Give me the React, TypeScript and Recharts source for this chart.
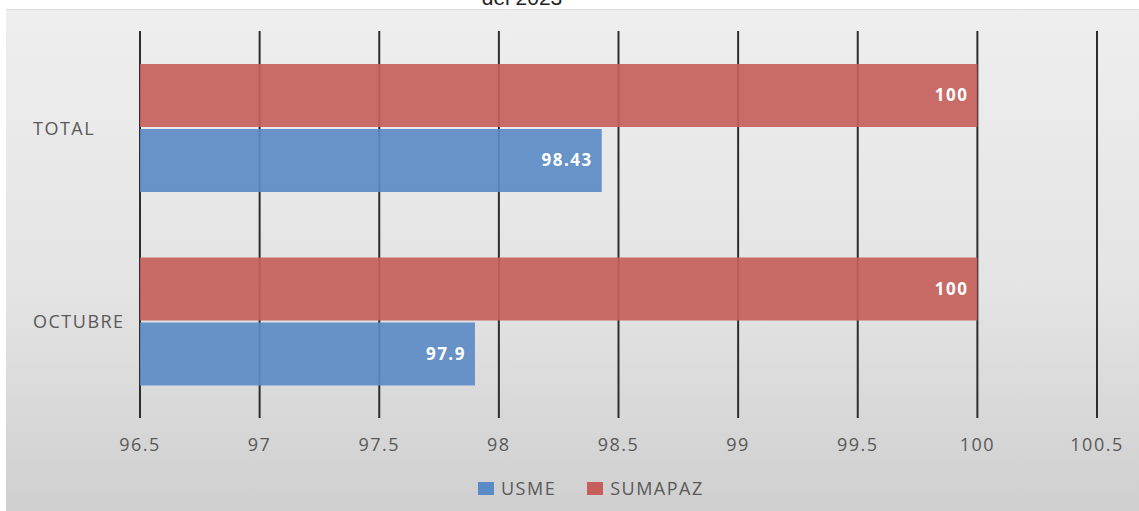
import { BarChart, Bar, XAxis, YAxis, CartesianGrid, Legend, LabelList } from "recharts";

const categories = ["TOTAL", "OCTUBRE"];
const usmeValues = [98.43, 97.9];
const sumapazValues = [100, 100];
const xTicks = [96.5, 97, 97.5, 98, 98.5, 99, 99.5, 100, 100.5];

const data = categories.map((name, i) => ({
  name,
  USME: usmeValues[i],
  SUMAPAZ: sumapazValues[i]
}));

const BLUE = "#5b8bc6";
const RED = "#c65f5b";
const TEXT = "#595959";
const FONT = "'Open Sans', sans-serif";

const legendItems = [
  { name: "USME", color: BLUE },
  { name: "SUMAPAZ", color: RED }
];

function CategoryTick(props: any) {
  const { y, payload } = props;
  return (
    <text
      x={27}
      y={y}
      textAnchor="start"
      dominantBaseline="central"
      fill={TEXT}
      fontFamily={FONT}
      fontSize={18}
      letterSpacing={1.5}
    >
      {payload.value}
    </text>
  );
}

function LegendBox() {
  return (
    <div
      style={{
        height: 30,
        display: "flex",
        alignItems: "center",
        paddingLeft: 472,
        fontFamily: FONT,
        fontSize: 18,
        letterSpacing: 1.5,
        color: TEXT
      }}
    >
      {legendItems.map((item, i) => (
        <div key={item.name} style={{ display: "flex", alignItems: "center", marginRight: i === 0 ? 31 : 0 }}>
          <span style={{ width: 16, height: 13, background: item.color, marginRight: 7, display: "inline-block" }} />
          <span>{item.name}</span>
        </div>
      ))}
    </div>
  );
}

export default function App() {
  return (
    <div style={{ position: "absolute", left: 0, top: 0, width: 1139, height: 511, background: "#ffffff", overflow: "hidden" }}>
      <svg width={1139} height={9} style={{ position: "absolute", left: 0, top: 0 }}>
        <text x={522} y={5} textAnchor="middle" fontFamily="'Liberation Sans', Arial, sans-serif" fontSize={21} fill="#222">
          del 2023
        </text>
      </svg>
      <div
        style={{
          position: "absolute",
          left: 6,
          top: 9,
          width: 1133,
          height: 502,
          background: "linear-gradient(to bottom, #eeeeee 0%, #e4e4e4 55%, #cfcfcf 100%)",
          borderTop: "1px solid #dcdcdc",
          boxSizing: "border-box"
        }}
      >
        <BarChart
          width={1133}
          height={501}
          data={data}
          layout="vertical"
          margin={{ top: 21, right: 42, left: 0, bottom: 8 }}
          barCategoryGap="17%"
          barGap={2}
        >
          <CartesianGrid horizontal={false} stroke="#2e2e2e" strokeWidth={2} />
          <XAxis
            type="number"
            domain={[96.5, 100.5]}
            ticks={xTicks}
            axisLine={false}
            tickLine={false}
            tickSize={0}
            tickMargin={20}
            height={55}
            tick={{ fill: TEXT, fontFamily: FONT, fontSize: 18, letterSpacing: 1.5 }}
            interval={0}
          />
          <YAxis
            type="category"
            dataKey="name"
            width={134}
            axisLine={false}
            tickLine={false}
            tick={<CategoryTick />}
          />
          <Legend verticalAlign="bottom" width={1133} wrapperStyle={{ left: 0 }} content={<LegendBox />} />
          <Bar dataKey="SUMAPAZ" fill={RED} fillOpacity={0.92} isAnimationActive={false}>
            <LabelList
              dataKey="SUMAPAZ"
              position="insideRight"
              offset={9}
              fill="#ffffff"
              fontFamily={FONT}
              fontSize={17}
              fontWeight="bold"
              letterSpacing={1.5}
            />
          </Bar>
          <Bar dataKey="USME" fill={BLUE} fillOpacity={0.92} isAnimationActive={false}>
            <LabelList
              dataKey="USME"
              position="insideRight"
              offset={9}
              fill="#ffffff"
              fontFamily={FONT}
              fontSize={17}
              fontWeight="bold"
              letterSpacing={1.5}
            />
          </Bar>
        </BarChart>
      </div>
    </div>
  );
}
